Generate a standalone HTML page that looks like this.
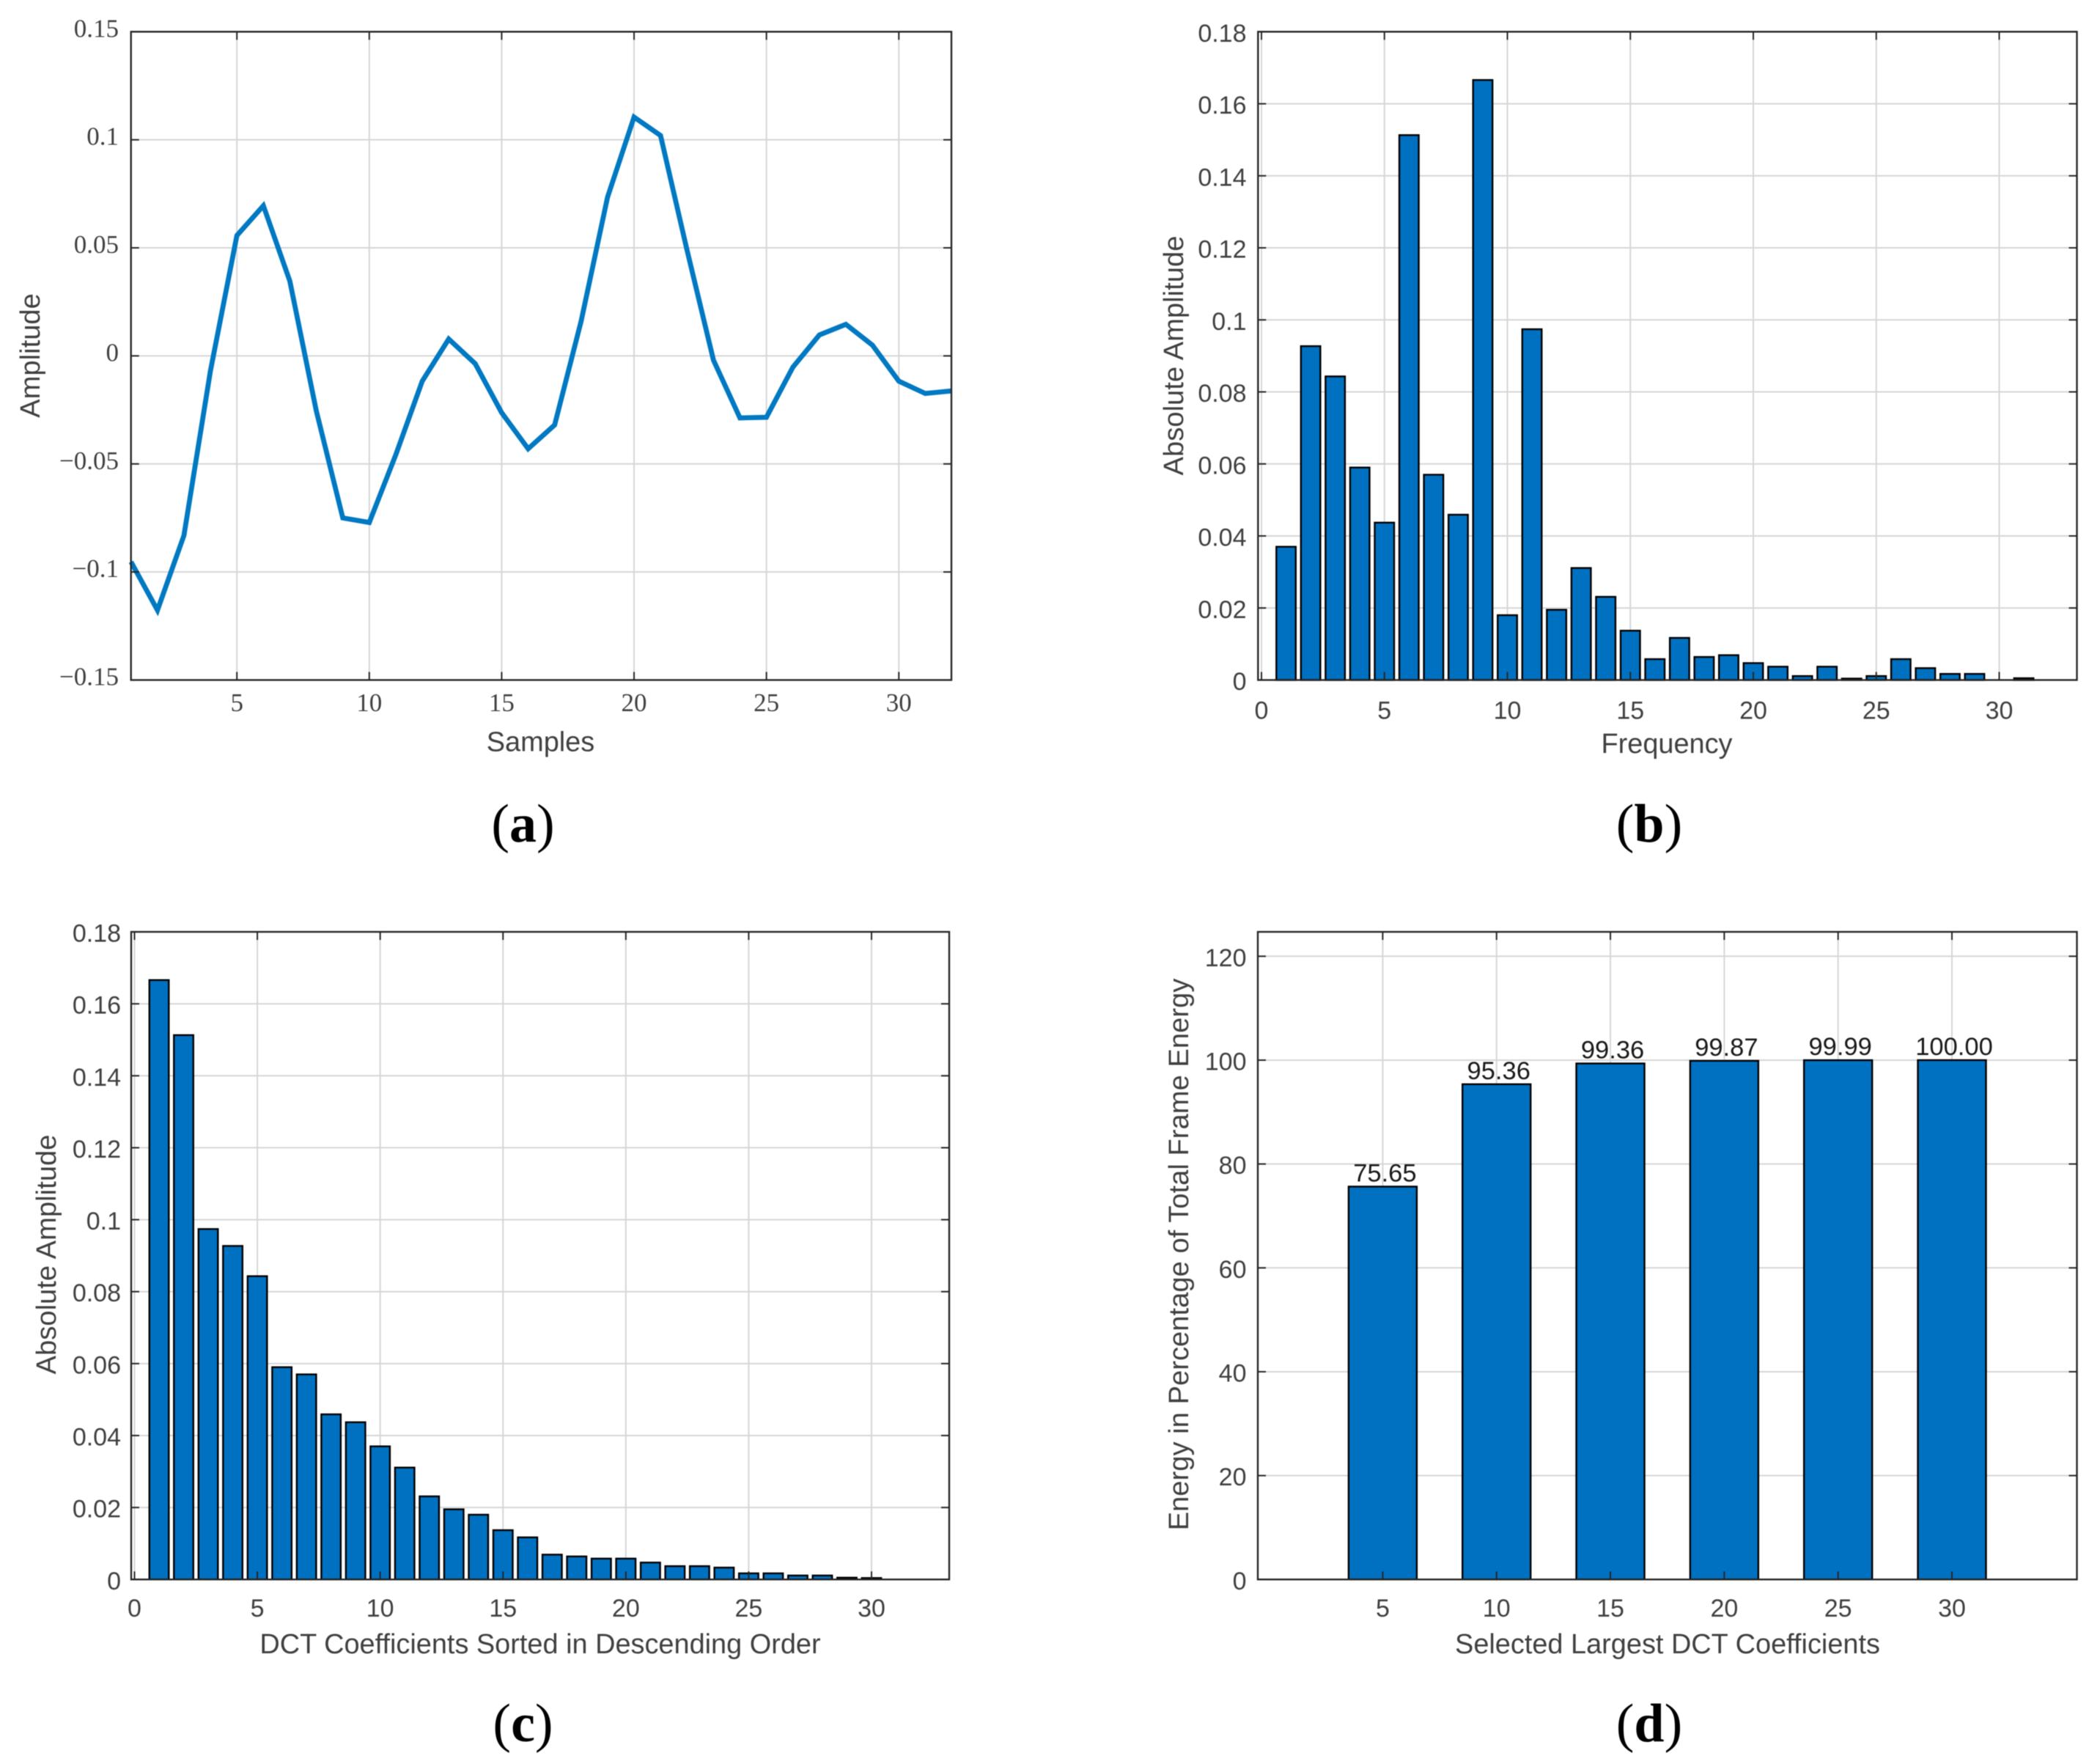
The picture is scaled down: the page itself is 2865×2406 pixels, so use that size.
<!DOCTYPE html>
<html lang="en">
<head>
<meta charset="utf-8">
<title>DCT analysis of a speech frame</title>
<style>
  html, body { margin: 0; padding: 0; background: #ffffff; }
  #figure { display: block; width: 2865px; height: 2406px; filter: blur(0.6px); }
  .sans { font-family: "Liberation Sans", sans-serif; }
  .serif { font-family: "Liberation Serif", serif; }
</style>
</head>
<body>
<svg id="figure" xmlns="http://www.w3.org/2000/svg" width="2865" height="2406" viewBox="0 0 2865 2406">
  <rect x="0" y="0" width="2865" height="2406" fill="#ffffff"></rect>
</svg>
<script>
// Panel (a): time-domain frame
const aAmplitude = [-0.0953, -0.1177, -0.0831, -0.0070, 0.0557, 0.0695, 0.0346, -0.0255, -0.0750, -0.0771,
  -0.0458, -0.0117, 0.0078, -0.0036, -0.0263, -0.0430, -0.0320, 0.0160, 0.0735, 0.1105,
  0.1020, 0.0490, -0.0020, -0.0287, -0.0284, -0.0052, 0.0097, 0.0146, 0.0050, -0.0117,
  -0.0174, -0.0162];
const aXTicks = [5, 10, 15, 20, 25, 30];
const aYTicks = [-0.15, -0.1, -0.05, 0, 0.05, 0.1, 0.15];
const aYTickLabels = ['\u22120.15', '\u22120.1', '\u22120.05', '0', '0.05', '0.1', '0.15'];

// Panel (b): DCT magnitudes by frequency
const bMagnitude = [0.0370, 0.0927, 0.0843, 0.0590, 0.0437, 0.1513, 0.0570, 0.0459, 0.1666, 0.0180,
  0.0974, 0.0195, 0.0311, 0.0231, 0.0137, 0.0058, 0.0117, 0.0064, 0.0069, 0.0047,
  0.0037, 0.0011, 0.0037, 0.0004, 0.0011, 0.0058, 0.0033, 0.0017, 0.0017, 0,
  0.0005, 0];
const bXTicks = [0, 5, 10, 15, 20, 25, 30];
const bYTicks = [0, 0.02, 0.04, 0.06, 0.08, 0.1, 0.12, 0.14, 0.16, 0.18];
const bYTickLabels = ['0', '0.02', '0.04', '0.06', '0.08', '0.1', '0.12', '0.14', '0.16', '0.18'];

// Panel (c): DCT magnitudes sorted in descending order
const cMagnitude = [0.1666, 0.1513, 0.0974, 0.0927, 0.0843, 0.0590, 0.0570, 0.0459, 0.0437, 0.0370,
  0.0311, 0.0231, 0.0195, 0.0180, 0.0137, 0.0117, 0.0069, 0.0064, 0.0058, 0.0058,
  0.0047, 0.0037, 0.0037, 0.0033, 0.0017, 0.0017, 0.0011, 0.0011, 0.0005, 0.0004];
const cXTicks = [0, 5, 10, 15, 20, 25, 30];
const cYTicks = [0, 0.02, 0.04, 0.06, 0.08, 0.1, 0.12, 0.14, 0.16, 0.18];
const cYTickLabels = ['0', '0.02', '0.04', '0.06', '0.08', '0.1', '0.12', '0.14', '0.16', '0.18'];

// Panel (d): energy captured by the largest coefficients
const dCategories = ['5', '10', '15', '20', '25', '30'];
const dEnergy = [75.65, 95.36, 99.36, 99.87, 99.99, 100.00];
const dValueLabels = ['75.65', '95.36', '99.36', '99.87', '99.99', '100.00'];
const dYTicks = [0, 20, 40, 60, 80, 100, 120];
const dYTickLabels = ['0', '20', '40', '60', '80', '100', '120'];

const NS = 'http://www.w3.org/2000/svg';
const root = document.getElementById('figure');
const GRID = '#d6d6d6', AXIS = '#262626', TEXT = '#404040', BLUE = '#0071c1', LINE = '#0079c2';

function make(tag, attrs, parent, content) {
  const node = document.createElementNS(NS, tag);
  for (const k in attrs) node.setAttribute(k, attrs[k]);
  if (content !== undefined) node.textContent = content;
  parent.appendChild(node);
  return node;
}
function linear(d0, d1, r0, r1) {
  return function (v) { return r0 + (v - d0) * (r1 - r0) / (d1 - d0); };
}

// Draws gridlines, frame, ticks and tick labels around a plot area.
function drawGrid(g, box, xTicks, xScale, yTicks, yScale) {
  xTicks.forEach(function (t) {
    const line = make('line', { x1: xScale(t), x2: xScale(t), y1: box.top, y2: box.bottom, stroke: GRID, 'stroke-width': 2 }, g);
    
    
  });
  yTicks.forEach(function (t) {
    const line = make('line', { x1: box.left, x2: box.right, y1: yScale(t), y2: yScale(t), stroke: GRID, 'stroke-width': 2 }, g);
    
    
  });
}
function drawFrame(g, box, xTicks, xScale, yTicks, yScale) {
  const L = 11;
  xTicks.forEach(function (t) {
    const x = xScale(t);
    const bottomTick = make('line', { x1: x, x2: x, y1: box.bottom, y2: box.bottom - L, stroke: AXIS, 'stroke-width': 2 }, g);
    
    
    const topTick = make('line', { x1: x, x2: x, y1: box.top, y2: box.top + L, stroke: AXIS, 'stroke-width': 2 }, g);
    
    
  });
  yTicks.forEach(function (t) {
    const y = yScale(t);
    const leftTick = make('line', { x1: box.left, x2: box.left + L, y1: y, y2: y, stroke: AXIS, 'stroke-width': 2 }, g);
    
    
    const rightTick = make('line', { x1: box.right, x2: box.right - L, y1: y, y2: y, stroke: AXIS, 'stroke-width': 2 }, g);
    
    
  });
  const frame = make('rect', { x: box.left, y: box.top, width: box.right - box.left, height: box.bottom - box.top, fill: 'none', stroke: AXIS, 'stroke-width': 2.4 }, g);
  
  
}
function drawXLabels(g, ticks, labels, xScale, baseline, cls, size) {
  ticks.forEach(function (t, i) {
    const label = make('text', { x: xScale(t), y: baseline, 'text-anchor': 'middle', 'font-size': size, fill: TEXT, class: cls }, g, labels[i]);
    
    
  });
}
function drawYLabels(g, ticks, labels, yScale, rightX, offset, cls, size) {
  ticks.forEach(function (t, i) {
    const label = make('text', { x: rightX, y: yScale(t) + offset, 'text-anchor': 'end', 'font-size': size, fill: TEXT, class: cls }, g, labels[i]);
    
    
  });
}
function drawBars(g, values, xPos, yScale, width) {
  const zero = yScale(0);
  values.forEach(function (v, i) {
    if (v <= 0) return;
    const top = yScale(v);
    const bar = make('rect', { x: xPos(i) - width / 2, y: top, width: width, height: zero - top, fill: BLUE, stroke: '#000000', 'stroke-width': 2.4 }, g);
    
    
  });
}
function xTitle(g, text, x, y) {
  const t = make('text', { x: x, y: y, 'text-anchor': 'middle', 'font-size': 37.9, fill: TEXT, class: 'sans' }, g, text);
  
  
}
function yTitle(g, text, x, y) {
  const t = make('text', { x: 0, y: 0, transform: 'translate(' + x + ',' + y + ') rotate(-90)', 'text-anchor': 'middle', 'font-size': 38.2, fill: TEXT, class: 'sans' }, g, text);
  
  
}
function caption(g, letter, x, y) {
  const t = make('text', { x: x, y: y, 'text-anchor': 'middle', 'font-size': 74, fill: '#000000', class: 'serif' }, g);
  
  
  make('tspan', {}, t, '(');
  make('tspan', { 'font-weight': 'bold' }, t, letter);
  make('tspan', {}, t, ')');
}

// ---- Panel (a) ----
(function () {
  const g = make('g', {}, root);
  
  
  const box = { left: 178.7, right: 1298, top: 43.3, bottom: 927.5 };
  const x = linear(1, 32, box.left, 1298.5);
  const y = linear(-0.15, 0.15, box.bottom, box.top);
  drawGrid(g, box, aXTicks, x, aYTicks, y);
  const pts = aAmplitude.map(function (v, i) { return x(i + 1) + ',' + y(v); }).join(' ');
  const line = make('polyline', { points: pts, fill: 'none', stroke: LINE, 'stroke-width': 6.8, 'stroke-linejoin': 'miter' }, g);
  
  
  drawFrame(g, box, aXTicks, x, aYTicks, y);
  drawXLabels(g, aXTicks, aXTicks.map(String), x, 970, 'serif', 35);
  drawYLabels(g, aYTicks, aYTickLabels, y, 162, 7, 'serif', 35);
  xTitle(g, 'Samples', 737.5, 1024.5);
  yTitle(g, 'Amplitude', 54, 485);
  caption(g, 'a', 713.5, 1148);
})();

// ---- Panel (b) ----
(function () {
  const g = make('g', {}, root);
  
  
  const box = { left: 1716.3, right: 2833.5, top: 43.3, bottom: 927.5 };
  const x = linear(0, 30, 1721, 2727.5);
  const y = linear(0, 0.18, box.bottom, box.top);
  drawGrid(g, box, bXTicks, x, bYTicks, y);
  drawBars(g, bMagnitude, function (i) { return x(i + 1); }, y, 26.5);
  drawFrame(g, box, bXTicks, x, bYTicks, y);
  drawXLabels(g, bXTicks, bXTicks.map(String), x, 980.5, 'sans', 34);
  drawYLabels(g, bYTicks, bYTickLabels, y, 1700.5, 13.5, 'sans', 34);
  xTitle(g, 'Frequency', 2274, 1027);
  yTitle(g, 'Absolute Amplitude', 1614, 485);
  caption(g, 'b', 2250, 1148);
})();

// ---- Panel (c) ----
(function () {
  const g = make('g', {}, root);
  
  
  const box = { left: 179, right: 1295, top: 1271, bottom: 2154.3 };
  const x = linear(0, 30, 183.5, 1189);
  const y = linear(0, 0.18, box.bottom, box.top);
  drawGrid(g, box, cXTicks, x, cYTicks, y);
  drawBars(g, cMagnitude, function (i) { return x(i + 1); }, y, 26.5);
  drawFrame(g, box, cXTicks, x, cYTicks, y);
  drawXLabels(g, cXTicks, cXTicks.map(String), x, 2205, 'sans', 34);
  drawYLabels(g, cYTicks, cYTickLabels, y, 165, 13.5, 'sans', 34);
  xTitle(g, 'DCT Coefficients Sorted in Descending Order', 737, 2255);
  yTitle(g, 'Absolute Amplitude', 76, 1711);
  caption(g, 'c', 713.5, 2375);
})();

// ---- Panel (d) ----
(function () {
  const g = make('g', {}, root);
  
  
  const box = { left: 1716, right: 2833.5, top: 1271, bottom: 2154.3 };
  const idx = dCategories.map(function (c, i) { return i + 1; });
  const x = linear(1, 6, 1886.4, 2663);
  const y = linear(0, 124.7, box.bottom, box.top);
  drawGrid(g, box, idx, x, dYTicks, y);
  drawBars(g, dEnergy, function (i) { return x(i + 1); }, y, 93);
  drawFrame(g, box, idx, x, dYTicks, y);
  dEnergy.forEach(function (v, i) {
    const label = make('text', { x: x(i + 1) + 3, y: y(v) - 7, 'text-anchor': 'middle', 'font-size': 34.5, fill: '#1a1a1a', class: 'sans' }, g, dValueLabels[i]);
    
    
  });
  drawXLabels(g, idx, dCategories, x, 2205, 'sans', 34);
  drawYLabels(g, dYTicks, dYTickLabels, y, 1700.5, 13.5, 'sans', 34);
  xTitle(g, 'Selected Largest DCT Coefficients', 2275, 2255);
  yTitle(g, 'Energy in Percentage of Total Frame Energy', 1621, 1711);
  caption(g, 'd', 2250, 2375);
})();
</script>
</body>
</html>
